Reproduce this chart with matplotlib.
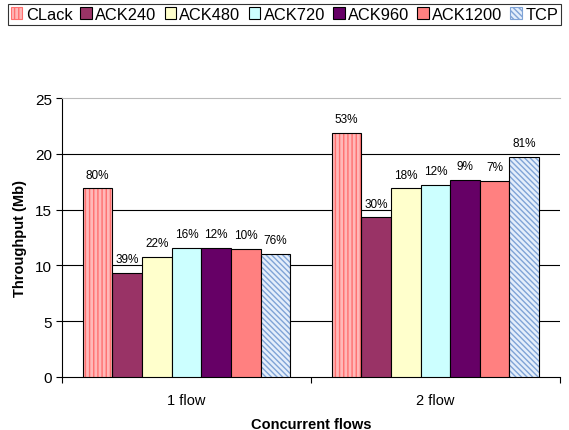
import matplotlib.pyplot as plt
import matplotlib.patches as mpatches
import numpy as np

plt.rcParams['font.family'] = ['Liberation Sans', 'DejaVu Sans']

groups = ['1 flow', '2 flow']
series = ['CLack', 'ACK240', 'ACK480', 'ACK720', 'ACK960', 'ACK1200', 'TCP']
throughput = {
    'CLack':   [16.9, 21.85],
    'ACK240':  [9.28, 14.3],
    'ACK480':  [10.77, 16.9],
    'ACK720':  [11.58, 17.2],
    'ACK960':  [11.6, 17.7],
    'ACK1200': [11.46, 17.6],
    'TCP':     [11.0, 19.7],
}
percent = {
    'CLack':   ['80%', '53%'],
    'ACK240':  ['39%', '30%'],
    'ACK480':  ['22%', '18%'],
    'ACK720':  ['16%', '12%'],
    'ACK960':  ['12%', '9%'],
    'ACK1200': ['10%', '7%'],
    'TCP':     ['76%', '81%'],
}

# face colour, hatch, hatch colour
styles = {
    'CLack':   ('#FFB8B8', '||||', '#FF6F6F'),
    'ACK240':  ('#993366', None, None),
    'ACK480':  ('#FFFFCC', None, None),
    'ACK720':  ('#CCFFFF', None, None),
    'ACK960':  ('#660066', None, None),
    'ACK1200': ('#FF8080', None, None),
    'TCP':     ('#E4EEFB', '\\\\\\\\\\\\', '#7FA3D6'),
}

fig = plt.figure(figsize=(5.69, 4.31), dpi=100)
ax = fig.add_axes([0.109, 0.1237, 0.875, 0.6459])

x = np.arange(len(groups))
w = 0.119
for i, name in enumerate(series):
    pos = x + (i - 3) * w
    face, hatch, hcol = styles[name]
    if hatch:
        ax.bar(pos, throughput[name], w, color=face, hatch=hatch,
               edgecolor=hcol, linewidth=0, zorder=3)
        ax.bar(pos, throughput[name], w, fill=False, edgecolor='black',
               linewidth=0.8, zorder=4)
    else:
        ax.bar(pos, throughput[name], w, color=face, edgecolor='black',
               linewidth=0.8, zorder=3)
    for px, v, lab in zip(pos, throughput[name], percent[name]):
        ax.annotate(lab, (px, v), xytext=(0, 10), textcoords='offset points',
                    ha='center', va='center', fontsize=8.5)

ax.set_xlim(-0.5, 1.5)
ax.set_ylim(0, 25)
ax.set_yticks(range(0, 26, 5))
for g in range(5, 21, 5):
    ax.axhline(g, color='black', linewidth=0.8, zorder=1)

ax.set_xticks(x)
ax.set_xticklabels(groups, fontsize=10.5)
ax.set_xticks([-0.5, 0.5, 1.5], minor=True)
ax.tick_params(axis='x', which='major', length=0, pad=12)
ax.tick_params(axis='x', which='minor', length=4, width=0.8)
ax.tick_params(axis='y', labelsize=11, length=4, width=0.8, pad=3)

ax.spines['right'].set_visible(False)
ax.spines['top'].set_color('#BBBBBB')
ax.spines['left'].set_linewidth(0.8)
ax.spines['bottom'].set_linewidth(0.8)

ax.set_ylabel('Throughput (Mb)', fontsize=10.5, fontweight='bold', labelpad=6)
ax.set_xlabel('Concurrent flows', fontsize=10.5, fontweight='bold', labelpad=7)

handles = []
for name in series:
    face, hatch, hcol = styles[name]
    handles.append(mpatches.Patch(facecolor=face, edgecolor=hcol if hatch else 'black',
                                  hatch=hatch, linewidth=0.8, label=name))
leg = fig.legend(handles=handles, loc='upper center', bbox_to_anchor=(0.5, 0.997),
                 ncol=7, fontsize=11.8, frameon=True, fancybox=False,
                 edgecolor='black', handlelength=0.7, handleheight=0.7,
                 handletextpad=0.2, columnspacing=0.5, borderpad=0.2,
                 borderaxespad=0.2)
leg.get_frame().set_linewidth(0.8)

fig.savefig('out.png', dpi=100)
